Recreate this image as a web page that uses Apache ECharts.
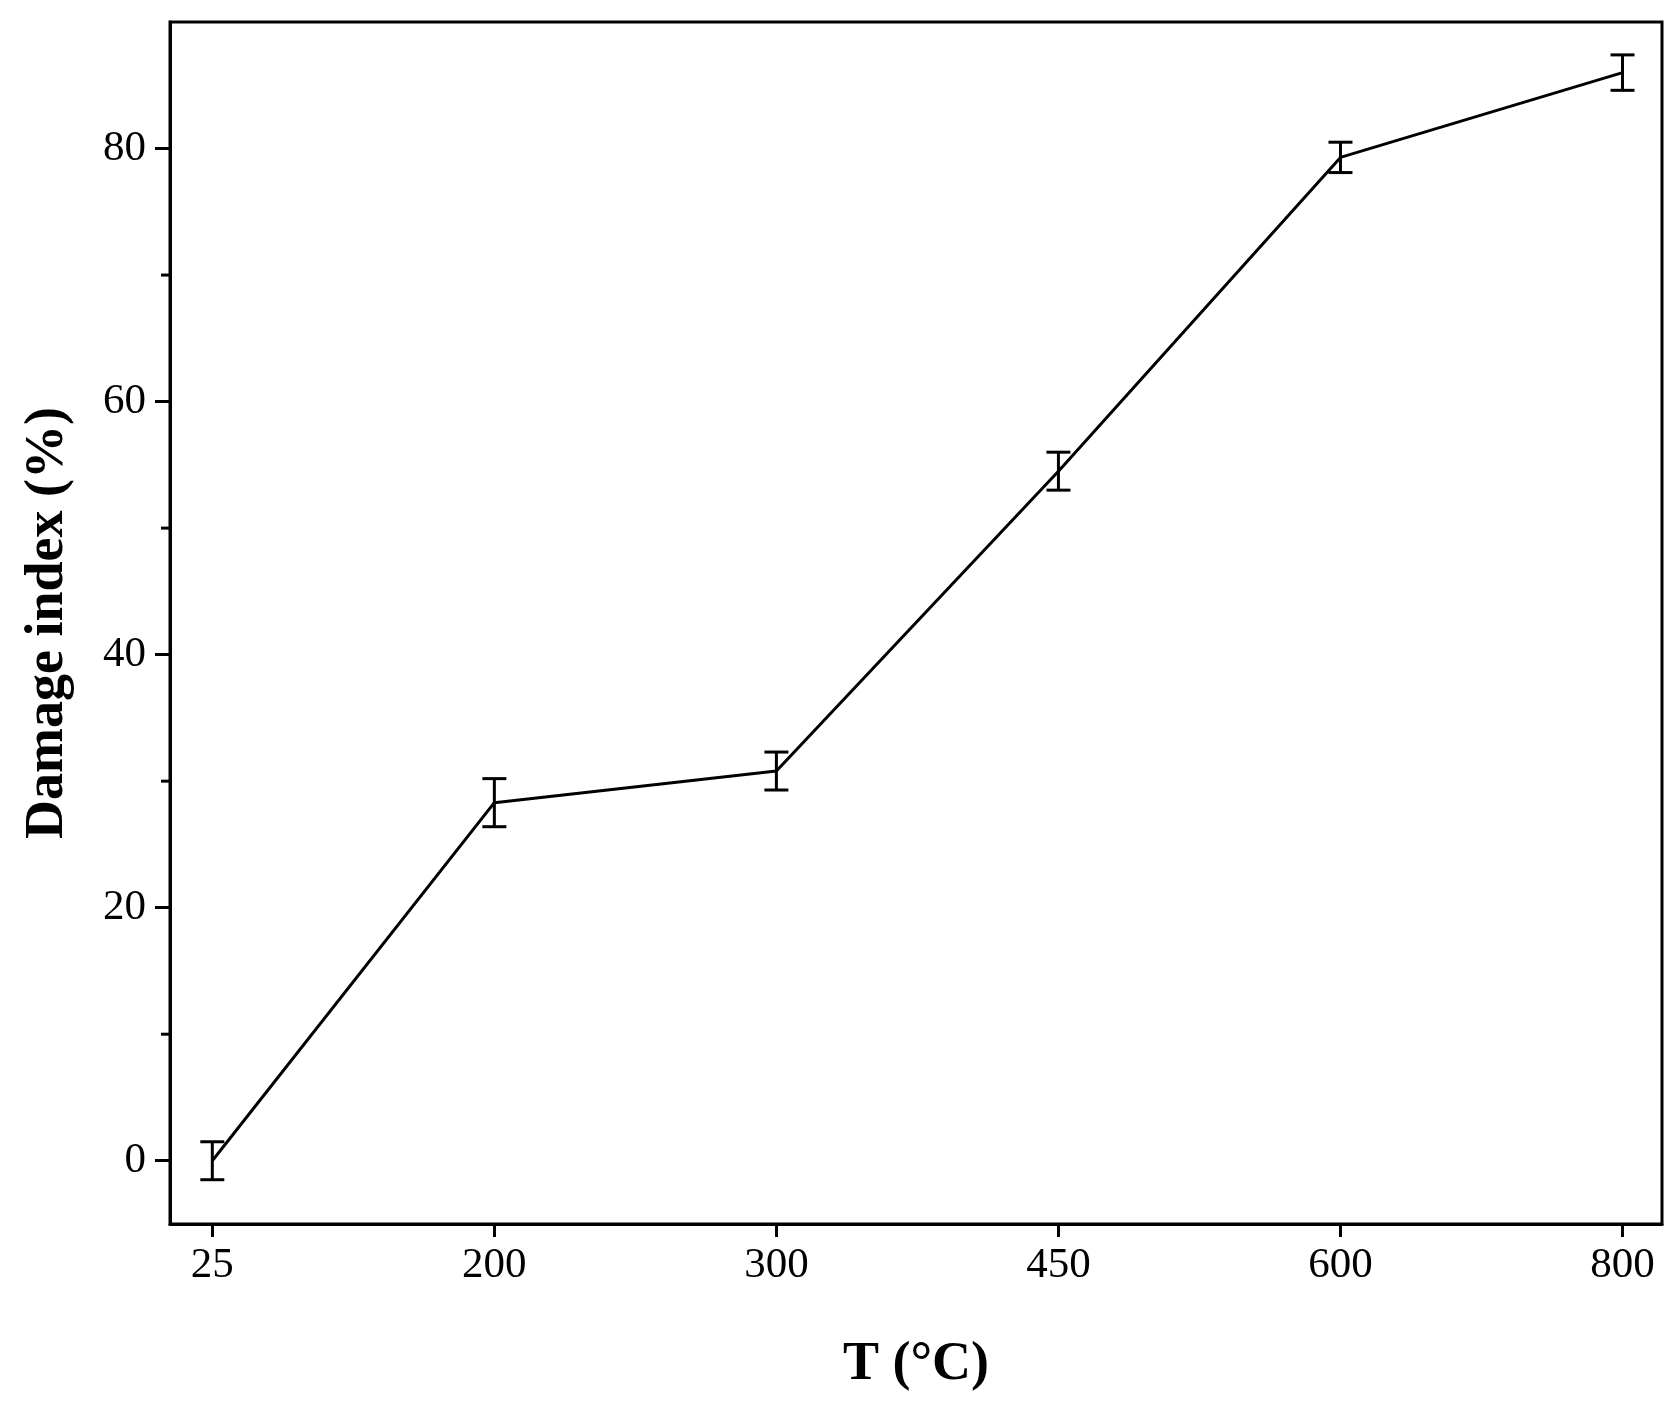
<!DOCTYPE html>
<html><head><meta charset="utf-8">
<script src="https://cdn.jsdelivr.net/npm/echarts@6/dist/echarts.min.js"></script>
<style>html,body{margin:0;padding:0;background:#fff}#c{width:1679px;height:1407px}</style>
</head><body><div id="c"></div>
<script>
const categories = ['25','200','300','450','600','800'];
const values = [0, 28.3, 30.8, 54.5, 79.3, 86.0];
const errors = [1.5, 1.9, 1.5, 1.5, 1.2, 1.4];
const yTicks = [0, 20, 40, 60, 80];
const yMinorTicks = [10, 30, 50, 70];

const lineData = values.map((v, i) => [i, v]);
const errData = values.map((v, i) => [i, v - errors[i], v + errors[i]]);
const font = 'Liberation Serif';
const chart = echarts.init(document.getElementById('c'));
chart.setOption({
  animation: false,
  backgroundColor: '#fff',
  grid: {left: 170, top: 22, right: 17, bottom: 183, show: true, borderColor: '#000', borderWidth: 3},
  xAxis: {
    type: 'value', min: -0.15, max: 5.14, interval: 1,
    axisLine: {show: true, lineStyle: {color: '#000', width: 3}, onZero: false},
    axisTick: {show: true, length: 13, lineStyle: {color: '#000', width: 3}, customValues: [0,1,2,3,4,5]},
    axisLabel: {fontFamily: font, fontSize: 43, color: '#000', margin: 20, customValues: [0,1,2,3,4,5],
      formatter: v => categories[Math.round(v)] ?? ''},
    splitLine: {show: false},
    name: 'T (°C)', nameLocation: 'middle', nameGap: 114,
    nameTextStyle: {fontFamily: font, fontSize: 54, fontWeight: 'bold', color: '#000'}
  },
  yAxis: {
    type: 'value', min: -5, max: 90,
    axisLine: {show: true, lineStyle: {color: '#000', width: 3}, onZero: false},
    axisTick: {show: true, length: 15, lineStyle: {color: '#000', width: 3}, customValues: yTicks},
    axisLabel: {fontFamily: font, fontSize: 43, color: '#000', margin: 24, customValues: yTicks},
    splitLine: {show: false},
    name: 'Damage index (%)', nameLocation: 'middle', nameGap: 95,
    nameTextStyle: {fontFamily: font, fontSize: 54, fontWeight: 'bold', color: '#000'}
  },
  series: [
    {type: 'line', data: lineData, symbol: 'none', lineStyle: {color: '#000', width: 3}},
    {type: 'custom', data: errData, renderItem: (params, api) => {
      const x = api.value(0);
      const lo = api.coord([x, api.value(1)]);
      const hi = api.coord([x, api.value(2)]);
      const w = 12;
      const st = {stroke: '#000', lineWidth: 3};
      return {type: 'group', children: [
        {type: 'line', shape: {x1: lo[0], y1: lo[1], x2: hi[0], y2: hi[1]}, style: st},
        {type: 'line', shape: {x1: lo[0]-w, y1: lo[1], x2: lo[0]+w, y2: lo[1]}, style: st},
        {type: 'line', shape: {x1: hi[0]-w, y1: hi[1], x2: hi[0]+w, y2: hi[1]}, style: st}
      ]};
    }}
  ]
});
const minor = yMinorTicks.map(v => {
  const p = chart.convertToPixel({gridIndex: 0}, [-0.15, v]);
  return {type: 'line', shape: {x1: p[0]-9, y1: p[1], x2: p[0], y2: p[1]}, style: {stroke: '#000', lineWidth: 3}};
});
chart.setOption({graphic: minor});
</script></body></html>
